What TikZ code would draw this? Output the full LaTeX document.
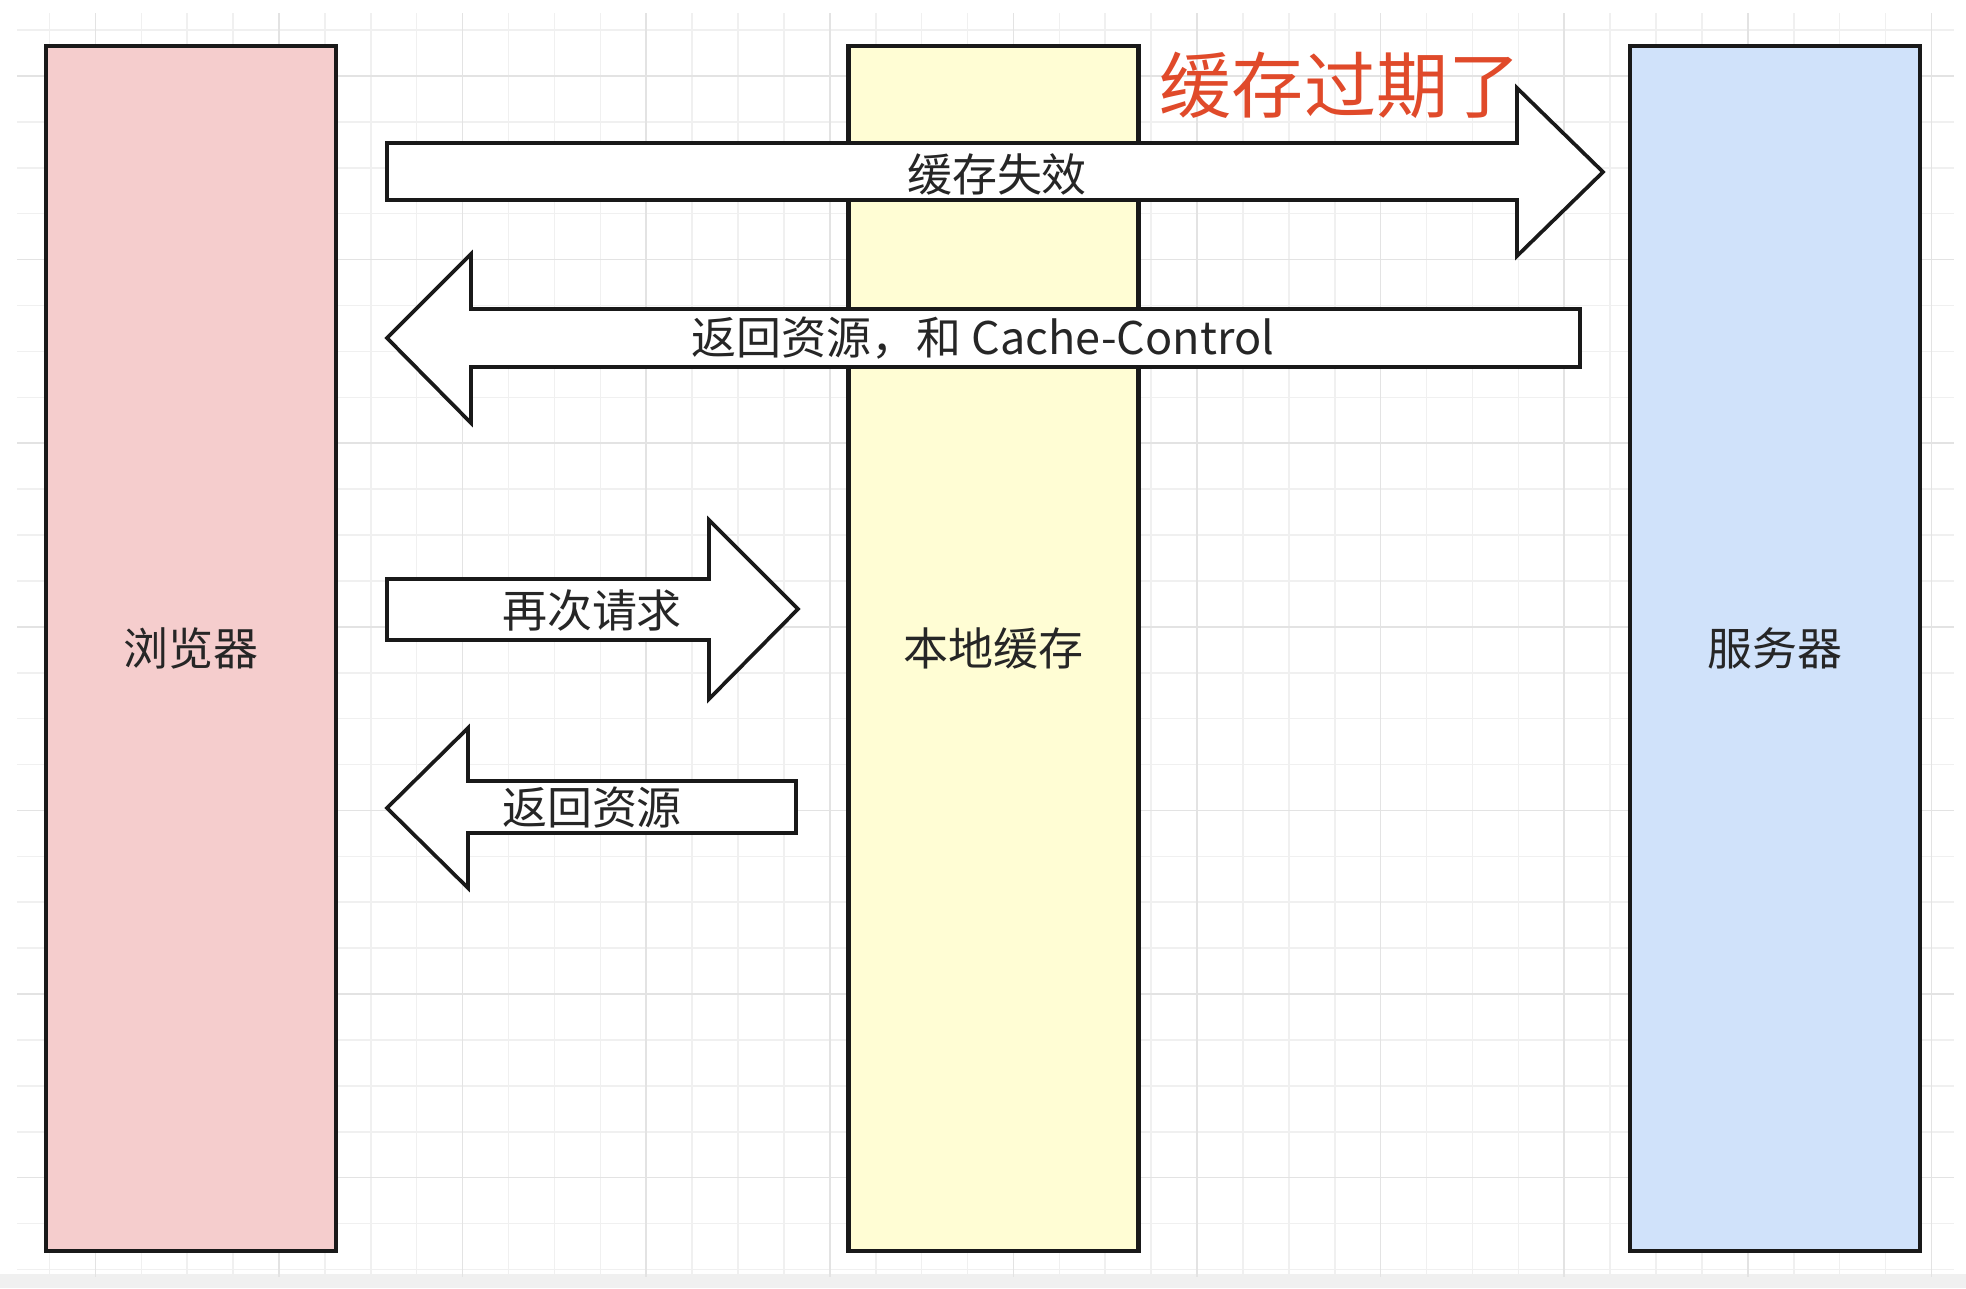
\documentclass[tikz,border=0pt]{standalone}
\usepackage{fontspec}
\newfontfamily\cjk{Noto Sans CJK SC}
\definecolor{browserpink}{HTML}{F5CDCD}
\definecolor{cacheyellow}{HTML}{FFFDD4}
\definecolor{serverblue}{HTML}{D0E2FA}
\definecolor{expiredred}{HTML}{E04A2A}
\definecolor{gridminor}{HTML}{F0F0F0}
\definecolor{gridmajor}{HTML}{E3E3E3}

\begin{document}
\begin{tikzpicture}[x=0.02cm, y=-0.02cm]
	\useasboundingbox (0,0) rectangle (1966,1288);
	\fill[white] (0,0) rectangle (1966,1288);
	\fill[black!6] (0,1274) rectangle (1966,1288);

	\begin{scope}[line width=0.9pt]
		\foreach \k in {0,...,41}
			\draw[gridminor] ({49.5+45.9*\k},13) -- ({49.5+45.9*\k},1277);
		\foreach \k in {0,...,27}
			\draw[gridminor] (17,{30.1+45.9*\k}) -- (1954,{30.1+45.9*\k});
		\foreach \k in {1,5,...,41}
			\draw[gridmajor] ({49.5+45.9*\k},13) -- ({49.5+45.9*\k},1277);
		\foreach \k in {1,5,...,25}
			\draw[gridmajor] (17,{30.1+45.9*\k}) -- (1954,{30.1+45.9*\k});
	\end{scope}

	\begin{scope}[every node/.style={draw=black!90, line width=2.4pt, inner sep=0pt,
	              minimum width=5.8cm, minimum height=24.1cm,
	              font=\cjk\fontsize{25.6}{30}\selectfont, text=black!85}]
		\node[fill=browserpink] (browser) at (191,648.5) {浏览器};
		\node[fill=cacheyellow] (cache) at (993.5,648.5) {本地缓存};
		\node[fill=serverblue] (server) at (1775,648.5) {服务器};
	\end{scope}

	\begin{scope}[blockarrow/.style={draw=black!90, fill=white, line width=2.1pt},
	              every node/.style={inner sep=0pt, text=black!85,
	              font=\cjk\fontsize{25.6}{30}\selectfont}]
		\draw[blockarrow] (387,143) -- (1517,143) -- (1517,88) -- (1603,172)
			-- (1517,256) -- (1517,200) -- (387,200) -- cycle;
		\node (expire) at (997,174) {缓存失效};

		\draw[blockarrow] (1580,309) -- (471,309) -- (471,254) -- (387,338)
			-- (471,423) -- (471,367) -- (1580,367) -- cycle;
		\node (reply) at (983,338) {返回资源，和 Cache-Control};

		\draw[blockarrow] (387,579) -- (709,579) -- (709,520) -- (798,609)
			-- (709,699) -- (709,640) -- (387,640) -- cycle;
		\node (again) at (592,610) {再次请求};

		\draw[blockarrow] (796,781) -- (468,781) -- (468,728) -- (387,808)
			-- (468,888) -- (468,833) -- (796,833) -- cycle;
		\node (back) at (592,808) {返回资源};
	\end{scope}

	\node[inner sep=0pt, text=expiredred, font=\cjk\fontsize{41}{48}\selectfont]
		(expired) at (1340,85) {缓存过期了};
\end{tikzpicture}
\end{document}
